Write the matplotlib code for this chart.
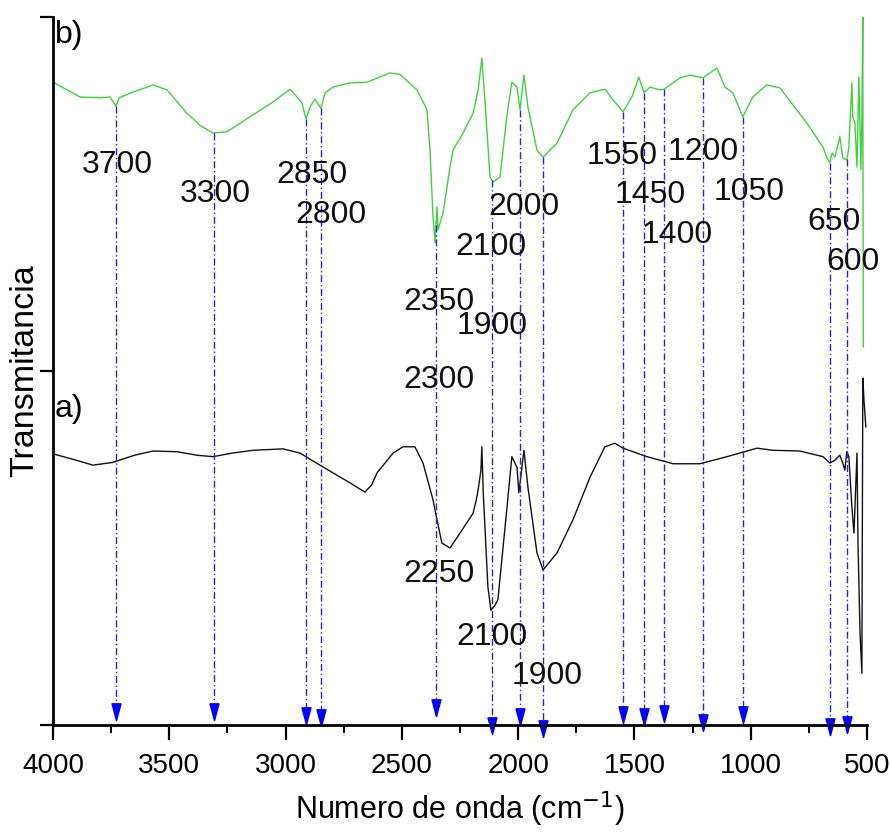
import numpy as np
import matplotlib
matplotlib.use("Agg")
import matplotlib.pyplot as plt
from matplotlib.path import Path

plt.rcParams['font.family'] = ['Liberation Sans', 'DejaVu Sans']

# Spectrum b) (green), transmittance in arbitrary units
wn_b = [4000, 3884, 3798, 3755, 3729, 3715, 3656, 3570, 3510, 3424, 3368, 3312, 3252,
        3153, 3054, 2981, 2951, 2930, 2912, 2895, 2874, 2848, 2830, 2796, 2723, 2650,
        2551, 2508, 2435, 2392, 2379, 2366, 2357, 2349, 2345, 2323, 2293, 2280, 2237,
        2194, 2172, 2156, 2143, 2121, 2108, 2078, 2049, 2027, 2005, 1992, 1975, 1958,
        1919, 1893, 1833, 1764, 1691, 1627, 1592, 1549, 1511, 1481, 1459, 1433, 1390,
        1373, 1304, 1261, 1206, 1145, 1111, 1077, 1034, 991, 931, 875, 758, 689, 672,
        660, 650, 638, 617, 604, 587, 578, 565, 561, 552, 543, 535, 526, 522, 518, 516]
tr_b = [90.8, 88.7, 88.6, 88.7, 87.4, 88.6, 89.4, 90.4, 89.7, 86.4, 84.7, 83.6, 83.8,
        85.9, 88.0, 89.8, 88.7, 87.9, 85.6, 87.3, 88.4, 87.1, 89.3, 90.1, 90.7, 90.8,
        92.1, 91.9, 89.7, 86.9, 81.2, 71.8, 68.1, 73.2, 69.9, 72.3, 78.8, 81.2, 83.6,
        86.4, 89.7, 94.2, 88.3, 77.4, 76.7, 77.4, 85.9, 90.8, 90.1, 86.9, 91.8, 87.3,
        81.2, 80.2, 82.2, 86.9, 89.3, 89.8, 88.3, 86.6, 88.7, 91.5, 89.3, 90.1, 89.7,
        89.8, 91.4, 91.8, 91.4, 92.8, 90.1, 89.3, 85.9, 88.7, 90.4, 90.0, 85.0, 81.6, 80.1,
        79.4, 80.8, 80.2, 83.1, 80.1, 79.8, 81.6, 90.7, 85.9, 85.0, 78.8, 91.5, 78.4, 85.9,
        100.0, 53.4]

# Spectrum a) (black)
wn_a = [4000, 3900, 3828, 3742, 3650, 3570, 3467, 3380, 3312, 3230, 3140, 3011, 2938,
        2852, 2780, 2723, 2659, 2630, 2607, 2538, 2495, 2444, 2409, 2366, 2349, 2328,
        2293, 2250, 2194, 2180, 2172, 2160, 2156, 2150, 2130, 2117, 2100, 2087, 2049,
        2027, 2005, 1997, 1975, 1958, 1919, 1893, 1833, 1764, 1691, 1627, 1584, 1549,
        1446, 1334, 1218, 1102, 973, 904, 789, 689, 660, 638, 617, 604, 595, 587, 578,
        565, 556, 543, 539, 530, 522, 518, 513, 505]
tr_a = [38.3, 37.4, 36.7, 37.1, 38.1, 38.7, 38.6, 38.1, 37.9, 38.4, 38.8, 39.0, 38.4,
        36.7, 35.3, 34.2, 32.9, 33.9, 35.6, 38.4, 39.3, 39.3, 37.0, 31.8, 29.0, 25.7,
        25.0, 27.1, 29.9, 31.8, 33.2, 36.0, 39.3, 32.8, 19.5, 16.2, 16.9, 17.7, 30.4,
        37.9, 36.4, 32.8, 38.8, 33.6, 24.3, 21.9, 24.3, 29.0, 35.0, 39.3, 39.8, 39.1,
        37.9, 36.9, 36.9, 37.9, 39.1, 38.8, 38.7, 37.9, 37.0, 37.4, 38.1, 37.0, 36.0, 38.6,
        37.9, 30.8, 27.1, 38.4, 26.1, 13.0, 7.3, 49.0, 45.9, 42.1]

# Marked bands: line position and arrow end level
peak_wn = [3729, 3308, 2912, 2848, 2353, 2113, 1992, 1893, 1549, 1459, 1373, 1206,
           1034, 660, 586]
arrow_end = [0.7, 0.7, 0.1, -0.1, 1.3, -1.3, 0.0, -1.7, 0.3, 0.0, 0.4, -0.8,
             0.3, -1.4, -1.1]

# Band labels (text, wavenumber, level)
band_labels = ["3700", "3300", "2850", "2800", "2350", "2300", "2100", "2000", "1900",
               "1550", "1450", "1400", "1200", "1050", "650", "600",
               "2250", "2100", "1900"]
label_wn = [3725, 3304, 2887, 2805, 2341, 2341, 2117, 1975, 2113,
            1554, 1433, 1317, 1205, 1008, 642, 561,
            2341, 2113, 1876]
label_y = [78.0, 73.9, 76.6, 70.9, 58.6, 47.6, 66.4, 72.0, 55.2,
           79.2, 73.7, 68.1, 79.8, 74.2, 69.9, 64.3,
           20.2, 11.3, 5.8]

fig = plt.figure(figsize=(8.9, 8.32), dpi=100)
ax = fig.add_axes([53 / 890, 107 / 832, 814 / 890, 708 / 832])

ax.plot(wn_b, tr_b, color='#3fd23f', lw=1.0)
ax.plot(wn_a, tr_a, color='#111111', lw=1.0)

# dash-dot guide lines with filled arrow heads
head = Path([(-0.27, 1.0), (0.27, 1.0), (0.0, 0.0), (-0.27, 1.0)],
            [Path.MOVETO, Path.LINETO, Path.LINETO, Path.CLOSEPOLY])
top = np.interp(peak_wn, wn_b[::-1], tr_b[::-1])
for w, t, e in zip(peak_wn, top, arrow_end):
    ax.plot([w, w], [t, e], color='#2626c8', lw=1.0, ls=(0, (5, 2, 1, 2)),
            clip_on=False)
    ax.plot([w], [e], marker=head, ms=24, color='#0000ff', mec='#0000ff',
            clip_on=False)

for txt, w, y in zip(band_labels, label_wn, label_y):
    ax.text(w, y, txt, fontsize=23, ha='center', va='baseline', color='#111111')

ax.text(3991, 43.5, "a)", fontsize=23, ha='left', va='baseline')
ax.text(3991, 96.3, "b)", fontsize=23, ha='left', va='baseline')

ax.set_xlim(4000, 500)
ax.set_ylim(0, 100)
ax.set_xticks([4000, 3500, 3000, 2500, 2000, 1500, 1000, 500])
ax.set_xticks(np.arange(750, 4000, 500), minor=True)
ax.set_yticks([0, 50, 100])
ax.set_yticklabels([])

for s in ['top', 'right']:
    ax.spines[s].set_visible(False)
for s in ['left', 'bottom']:
    ax.spines[s].set_linewidth(2)

ax.tick_params(axis='x', which='major', length=11, width=1.6, labelsize=20, pad=9)
ax.tick_params(axis='x', which='minor', length=6, width=1.4)
ax.tick_params(axis='y', which='major', length=9.5, width=1.6)

ax.set_xlabel("Numero de onda (cm$^{-1}$)", fontsize=22, labelpad=8)
ax.set_ylabel("Transmitancia", fontsize=24.5, labelpad=-4)

fig.savefig("out.png", dpi=100)
